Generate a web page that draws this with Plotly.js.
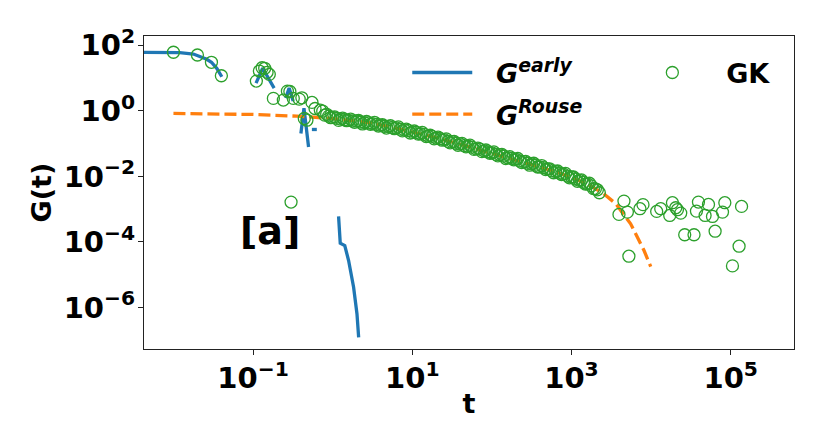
<!DOCTYPE html>
<html>
<head>
<meta charset="utf-8">
<script src="https://cdn.plot.ly/plotly-3.0.1.min.js"></script>
<style>
  html, body { margin: 0; padding: 0; background: #fff; }
  #chart { width: 830px; height: 447px; }
</style>
</head>
<body>
<div id="chart"></div>
<script>
// G_early fit: null marks the gaps where the fit is negative (hidden on log scale)
var earlyT = [0.003, 0.008, 0.012, 0.0178, 0.0262, 0.03, 0.035, 0.0405, null,
              0.109, 0.132, 0.184, null,
              0.257, 0.284, 0.319, null,
              0.399, 0.436, 0.498, null,
              0.548, 0.632, null,
              1.186, 1.245, 1.419, 1.585, 1.832, 2.02, 2.12];
var earlyG = [61.5, 61.5, 60, 54.4, 37.4, 30.5, 19.9, 11.0, null,
              7.05, 20.0, 4.95, null,
              2.45, 4.95, 1.98, null,
              0.203, 1.21, 0.079, null,
              0.27, 0.27, null,
              5.98e-4, 9.1e-5, 7.75e-5, 2.69e-5, 4.1e-6, 6.3e-7, 1.21e-7];

// G_Rouse
var rouseT = [0.01, 0.1, 0.355, 0.86, 1.78, 3.16, 5.62, 10, 17.8, 31.6, 56.2, 100,
              178, 316, 562, 1000, 1585, 2510, 3590, 5530, 8150, 9890];
var rouseG = [0.832, 0.776, 0.689, 0.598, 0.50, 0.417, 0.316, 0.229, 0.162, 0.112, 0.0759, 0.0513,
              0.0347, 0.0234, 0.0151, 0.00933, 0.00575, 0.00302, 0.00147, 3.57e-4, 5.45e-5, 1.76e-5];

// Green-Kubo data: early points
var gkEarlyT = [0.01, 0.02, 0.03, 0.04, 0.11, 0.12, 0.13, 0.14, 0.15, 0.16, 0.18, 0.24,
                0.27, 0.29, 0.30, 0.32, 0.38, 0.41, 0.44, 0.475, 0.55, 0.60, 0.70, 0.75];
var gkEarlyG = [61.5, 50.7, 30.3, 11.8, 8.1, 16.4, 20.7, 19.9, 15.0, 13.0, 2.40, 2.13,
                4.0, 3.9, 0.00164, 2.40, 2.28, 2.50, 0.585, 0.519, 1.81, 1.18, 1.05, 0.98];

// Green-Kubo data: the dense band along G_Rouse
var gkBandT = [0.794, 0.841, 0.891, 0.944, 1.0, 1.059, 1.12, 1.189, 1.26, 1.334, 1.41, 1.496,
               1.58, 1.679, 1.78, 1.884, 2.0, 2.113, 2.24, 2.371, 2.51, 2.661, 2.82, 2.985,
               3.16, 3.35, 3.55, 3.758, 3.98, 4.217, 4.47, 4.732, 5.01, 5.309, 5.62, 5.957,
               6.31, 6.683, 7.08, 7.499, 7.94, 8.414, 8.91, 9.441,
               10.0, 10.59, 11.2, 11.89, 12.6, 13.34, 14.1, 14.96, 15.8, 16.79, 17.8, 18.84,
               20.0, 21.13, 22.4, 23.71, 25.1, 26.61, 28.2, 29.85, 31.6, 33.5, 35.5, 37.58,
               39.8, 42.17, 44.7, 47.32, 50.1, 53.09, 56.2, 59.57, 63.1, 66.83, 70.8, 74.99,
               79.4, 84.14, 89.1, 94.41,
               100, 105.9, 112, 118.9, 126, 133.4, 141, 149.6, 158, 167.9, 178, 188.4,
               200, 211.3, 224, 237.1, 251, 266.1, 282, 298.5, 316, 335, 355, 375.8,
               398, 421.7, 447, 473.2, 501, 530.9, 562, 595.7, 631, 668.3, 708, 749.9,
               794, 841.4, 891, 944.1,
               1000, 1059, 1122, 1189, 1259, 1334, 1413, 1496, 1585, 1679, 1778, 1884,
               1995, 2113, 2239];
var gkBandG = [0.741, 0.785, 0.692, 0.617, 0.631, 0.653, 0.589, 0.513, 0.562, 0.603, 0.537, 0.501,
               0.513, 0.562, 0.490, 0.447, 0.490, 0.507, 0.457, 0.398, 0.437, 0.473, 0.427, 0.389,
               0.407, 0.447, 0.389, 0.343, 0.363, 0.376, 0.339, 0.299, 0.331, 0.351, 0.309, 0.285,
               0.302, 0.324, 0.275, 0.245, 0.263, 0.275, 0.251, 0.211,
               0.224, 0.243, 0.219, 0.195, 0.200, 0.219, 0.191, 0.164, 0.170, 0.180, 0.166, 0.140,
               0.148, 0.158, 0.141, 0.127, 0.132, 0.140, 0.117, 0.106, 0.115, 0.116, 0.102, 0.0891,
               0.0977, 0.101, 0.0871, 0.0794, 0.0832, 0.0902, 0.0776, 0.0668, 0.0692, 0.0733, 0.0676, 0.0569,
               0.0603, 0.0638, 0.0562, 0.0507,
               0.0525, 0.0556, 0.0468, 0.0422, 0.0457, 0.0468, 0.0417, 0.0351, 0.0372, 0.0398, 0.0355, 0.0320,
               0.0331, 0.0351, 0.0295, 0.0263, 0.0282, 0.0285, 0.0251, 0.0219, 0.0240, 0.0251, 0.0219, 0.0193,
               0.0195, 0.0214, 0.0186, 0.0162, 0.0170, 0.0170, 0.0148, 0.0129, 0.0141, 0.0146, 0.0126, 0.0114,
               0.0117, 0.0123, 0.0102, 0.00902,
               0.00955, 0.00955, 0.00832, 0.00708, 0.00759, 0.00776, 0.00661, 0.00582, 0.00589, 0.00617, 0.00513, 0.00422,
               0.00417, 0.00389, 0.00316];

// Green-Kubo data: noisy tail
var gkTailT = [3948, 4560, 5035, 5260, 7244, 7907, 11750, 13210, 17140, 18530,
               20390, 21410, 23560, 26440, 34600, 37120, 39330, 47640, 52580, 59020,
               63680, 78890, 84330, 105200, 127400, 136800];
var gkTailG = [6.89e-4, 1.76e-3, 8.10e-4, 3.65e-5, 1.03e-3, 1.37e-3, 8.51e-4, 1.03e-3, 6.42e-4, 1.57e-3,
               1.10e-3, 9.59e-4, 7.55e-4, 1.65e-4, 1.65e-4, 8.69e-4, 1.64e-3, 6.42e-4, 1.39e-3, 5.98e-4,
               2.12e-4, 8.10e-4, 1.57e-3, 1.85e-5, 7.38e-5, 1.21e-3];

var xTickVals = [0.1, 10, 1000, 100000];
var xTickText = ['10<sup>\u22121</sup>', '10<sup>1</sup>', '10<sup>3</sup>', '10<sup>5</sup>'];
var yTickVals = [1e-6, 1e-4, 1e-2, 1, 100];
var yTickText = ['10<sup>\u22126</sup>', '10<sup>\u22124</sup>', '10<sup>\u22122</sup>', '10<sup>0</sup>', '10<sup>2</sup>'];

var FONT = 'DejaVu Sans';
var nb = '\u00a0';

var gkT = gkEarlyT.concat(gkBandT, gkTailT);
var gkG = gkEarlyG.concat(gkBandG, gkTailG);

var earlyTrace = {
  x: earlyT, y: earlyG, mode: 'lines', connectgaps: false,
  name: nb + nb + '<i>G<sup>early</sup></i>',
  line: { color: '#1f77b4', width: 3.3 },
  legend: 'legend'
};
var rouseTrace = {
  x: rouseT, y: rouseG, mode: 'lines',
  name: nb + nb + '<i>G<sup>Rouse</sup></i>',
  line: { color: '#ff7f0e', width: 3.3, dash: '12px,5px' },
  legend: 'legend2'
};
var gkTrace = {
  x: gkT, y: gkG, mode: 'markers',
  name: nb + nb + 'GK',
  marker: { symbol: 'circle-open', size: 12, color: '#2ca02c', line: { width: 1.3, color: '#2ca02c' } },
  legend: 'legend3'
};

function legendAt(x, y) {
  return {
    x: x, y: y, xanchor: 'left', yanchor: 'middle',
    bgcolor: 'rgba(0,0,0,0)', borderwidth: 0, itemwidth: 60,
    font: { family: FONT, size: 27, color: 'black', weight: 'bold' }
  };
}

var axisCommon = {
  type: 'log',
  showgrid: false, zeroline: false,
  showline: true, mirror: true, linecolor: '#222', linewidth: 1.1,
  ticks: 'outside', ticklen: 5, tickwidth: 1.1, tickcolor: '#222',
  tickfont: { family: FONT, size: 29, color: 'black', weight: 'bold' }
};

var layout = {
  width: 830, height: 447,
  margin: { l: 144, r: 36, t: 36, b: 98 },
  paper_bgcolor: 'white', plot_bgcolor: 'white',
  showlegend: true,
  xaxis: Object.assign({}, axisCommon, {
    range: [-2.37, 5.795],
    tickmode: 'array', tickvals: xTickVals, ticktext: xTickText,
    ticklabelstandoff: -2,
    title: { text: 't', font: { family: FONT, size: 27, color: 'black', weight: 'bold' }, standoff: 0 }
  }),
  yaxis: Object.assign({}, axisCommon, {
    range: [-7.27, 2.285],
    tickmode: 'array', tickvals: yTickVals, ticktext: yTickText,
    ticklabelstandoff: -3,
    title: { text: 'G(t)', font: { family: FONT, size: 27, color: 'black', weight: 'bold' }, standoff: 4 }
  }),
  legend: legendAt(0.405, 0.882),
  legend2: legendAt(0.405, 0.749),
  legend3: legendAt(0.759, 0.882),
  annotations: [{
    xref: 'paper', yref: 'paper', x: 0.194, y: 0.376,
    xanchor: 'center', yanchor: 'middle', showarrow: false,
    text: '[a]', font: { family: FONT, size: 38, color: 'black', weight: 'bold' }
  }]
};

Plotly.newPlot('chart', [earlyTrace, rouseTrace, gkTrace], layout, { displayModeBar: false, staticPlot: true });
</script>
</body>
</html>
